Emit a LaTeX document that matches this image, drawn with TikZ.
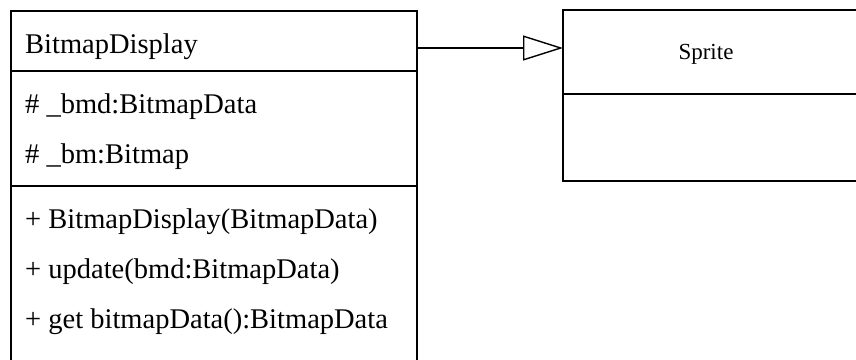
\documentclass[tikz,border=0pt]{standalone}
\usepackage{fontspec}
\setmainfont{Liberation Serif}
\usetikzlibrary{arrows.meta}
\begin{document}
\begin{tikzpicture}[x=1pt,y=-1pt,
  edge/.style={line width=1.4pt, line cap=rect},
  member/.style={anchor=base west, inner sep=0pt, font=\fontsize{28.5}{32}\selectfont},
  title/.style={anchor=base, inner sep=0pt, font=\fontsize{23}{27}\selectfont}]
\useasboundingbox (0,0) rectangle (856,359);
% BitmapDisplay class (open at bottom)
\draw[edge] (11,359) -- (11,11) -- (417,11) -- (417,359);
\draw[edge] (11,71) -- (417,71);
\draw[edge] (11,186) -- (417,186);
\node[member] (name) at (25,53) {BitmapDisplay};
\node[member] (a1) at (25,113) {\# \_bmd:BitmapData};
\node[member] (a2) at (25,163) {\# \_bm:Bitmap};
\node[member] (m1) at (25,228) {+ BitmapDisplay(BitmapData)};
\node[member] (m2) at (25,278) {+ update(bmd:BitmapData)};
\node[member] (m3) at (25,328) {+ get bitmapData():BitmapData};
% Sprite class (open at right)
\draw[edge] (856,10) -- (563,10) -- (563,181) -- (856,181);
\draw[edge] (563,94) -- (856,94);
\node[title] (sprite) at (706,59) {Sprite};
% generalization
\coordinate (gfrom) at (417,48);
\coordinate (gto) at (563,48);
\draw[line width=1.4pt, -{Triangle[open, length=40pt, width=25pt, line width=1.4pt]}] (gfrom) -- (gto);
\end{tikzpicture}
\end{document}
